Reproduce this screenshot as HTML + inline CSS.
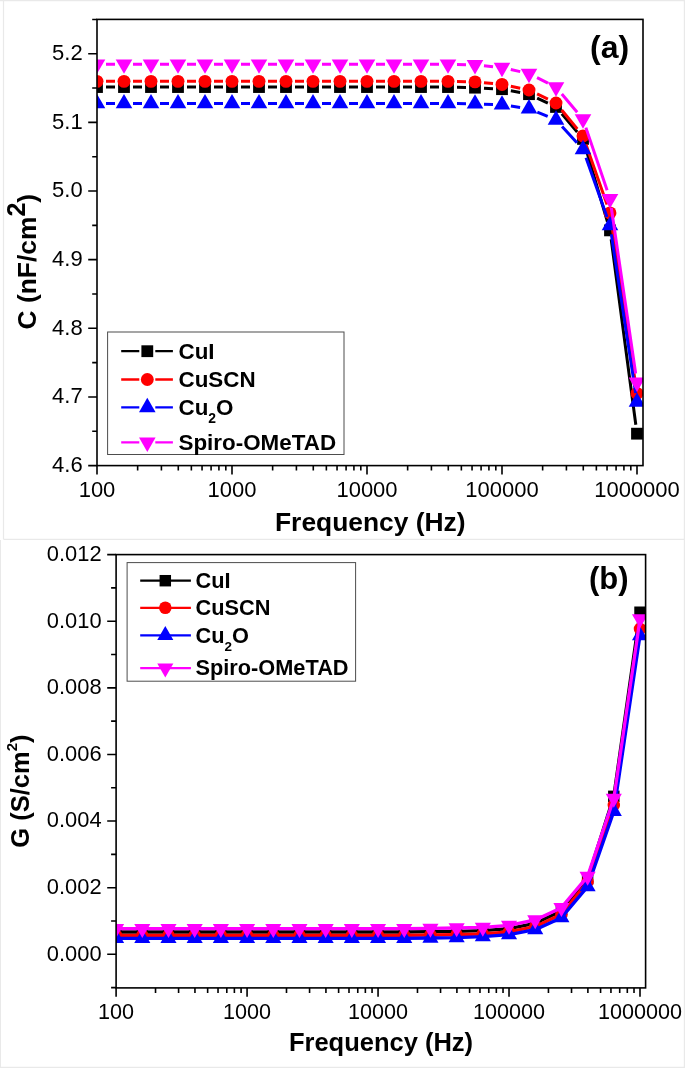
<!DOCTYPE html>
<html lang="en"><head><meta charset="utf-8"><title>Capacitance and conductance vs frequency</title>
<style>html,body{margin:0;padding:0;background:#fff}svg{display:block}</style></head><body>
<svg width="685" height="1068" viewBox="0 0 685 1068">
<rect width="685" height="1068" fill="#fff"/>
<defs>
<clipPath id="clipa"><rect x="97" y="19.4" width="546" height="446.2"/></clipPath>
<clipPath id="clipb"><rect x="116.1" y="554.6" width="529.5" height="433.3"/></clipPath>
</defs>
<g fill="none" stroke="#e9e9e9" stroke-width="1.2">
<path d="M3.5,0.6 V539.3 M0,0.6 H685 M3.5,539.3 H685 M684.4,0 V1068 M0.4,540 V1068 M0,1067.4 H685"/>
</g>
<g id="panel-a">
<g clip-path="url(#clipa)">
<path d="M106,87.04 L115,87.04 M133,87.04 L142,87.04 M160,87.04 L169,87.04 M187,87.04 L196,87.04 M214,87.04 L223,87.04 M241,87.04 L250,87.04 M268,87.04 L277,87.04 M295,87.04 L304,87.04 M322,87.04 L331,87.04 M349,87.04 L358,87.04 M376,87.04 L385,87.04 M403,87.04 L412,87.04 M430,87.04 L439,87.04 M457,87.25 L466,87.45 M483.99,88.16 L493.01,88.67 M510.85,90.81 L520.15,92.54 M537.14,98.03 L547.86,103.1 M561.81,113.82 L577.19,132.06 M585.55,147.57 L607.45,221.73 M611.18,239.29 L635.82,424.76" fill="none" stroke="#000000" stroke-width="3.0"/>
<rect x="91.1" y="81.14" width="11.8" height="11.8" fill="#000000"/>
<rect x="118.1" y="81.14" width="11.8" height="11.8" fill="#000000"/>
<rect x="145.1" y="81.14" width="11.8" height="11.8" fill="#000000"/>
<rect x="172.1" y="81.14" width="11.8" height="11.8" fill="#000000"/>
<rect x="199.1" y="81.14" width="11.8" height="11.8" fill="#000000"/>
<rect x="226.1" y="81.14" width="11.8" height="11.8" fill="#000000"/>
<rect x="253.1" y="81.14" width="11.8" height="11.8" fill="#000000"/>
<rect x="280.1" y="81.14" width="11.8" height="11.8" fill="#000000"/>
<rect x="307.1" y="81.14" width="11.8" height="11.8" fill="#000000"/>
<rect x="334.1" y="81.14" width="11.8" height="11.8" fill="#000000"/>
<rect x="361.1" y="81.14" width="11.8" height="11.8" fill="#000000"/>
<rect x="388.1" y="81.14" width="11.8" height="11.8" fill="#000000"/>
<rect x="415.1" y="81.14" width="11.8" height="11.8" fill="#000000"/>
<rect x="442.1" y="81.14" width="11.8" height="11.8" fill="#000000"/>
<rect x="469.1" y="81.76" width="11.8" height="11.8" fill="#000000"/>
<rect x="496.1" y="83.27" width="11.8" height="11.8" fill="#000000"/>
<rect x="523.1" y="88.28" width="11.8" height="11.8" fill="#000000"/>
<rect x="550.1" y="101.05" width="11.8" height="11.8" fill="#000000"/>
<rect x="577.1" y="133.03" width="11.8" height="11.8" fill="#000000"/>
<rect x="604.1" y="224.47" width="11.8" height="11.8" fill="#000000"/>
<rect x="631.1" y="427.78" width="11.8" height="11.8" fill="#000000"/>
<path d="M106,81.34 L115,81.34 M133,81.34 L142,81.34 M160,81.34 L169,81.34 M187,81.34 L196,81.34 M214,81.34 L223,81.34 M241,81.34 L250,81.34 M268,81.34 L277,81.34 M295,81.34 L304,81.34 M322,81.34 L331,81.34 M349,81.34 L358,81.34 M376,81.34 L385,81.34 M403,81.34 L412,81.34 M430,81.34 L439,81.34 M457,81.53 L466,81.71 M483.96,82.74 L493.04,83.59 M510.82,86.25 L520.18,88.18 M537.1,93.91 L547.9,99.12 M561.71,109.99 L577.29,128.96 M585.98,144.41 L607.02,204.44 M611.33,221.83 L635.67,384.49" fill="none" stroke="#ff0000" stroke-width="3.0"/>
<circle cx="97" cy="81.34" r="6.45" fill="#ff0000"/>
<circle cx="124" cy="81.34" r="6.45" fill="#ff0000"/>
<circle cx="151" cy="81.34" r="6.45" fill="#ff0000"/>
<circle cx="178" cy="81.34" r="6.45" fill="#ff0000"/>
<circle cx="205" cy="81.34" r="6.45" fill="#ff0000"/>
<circle cx="232" cy="81.34" r="6.45" fill="#ff0000"/>
<circle cx="259" cy="81.34" r="6.45" fill="#ff0000"/>
<circle cx="286" cy="81.34" r="6.45" fill="#ff0000"/>
<circle cx="313" cy="81.34" r="6.45" fill="#ff0000"/>
<circle cx="340" cy="81.34" r="6.45" fill="#ff0000"/>
<circle cx="367" cy="81.34" r="6.45" fill="#ff0000"/>
<circle cx="394" cy="81.34" r="6.45" fill="#ff0000"/>
<circle cx="421" cy="81.34" r="6.45" fill="#ff0000"/>
<circle cx="448" cy="81.34" r="6.45" fill="#ff0000"/>
<circle cx="475" cy="81.89" r="6.45" fill="#ff0000"/>
<circle cx="502" cy="84.43" r="6.45" fill="#ff0000"/>
<circle cx="529" cy="89.99" r="6.45" fill="#ff0000"/>
<circle cx="556" cy="103.03" r="6.45" fill="#ff0000"/>
<circle cx="583" cy="135.91" r="6.45" fill="#ff0000"/>
<circle cx="610" cy="212.93" r="6.45" fill="#ff0000"/>
<circle cx="637" cy="393.39" r="6.45" fill="#ff0000"/>
<path d="M106,103.52 L115,103.52 M133,103.52 L142,103.52 M160,103.52 L169,103.52 M187,103.52 L196,103.52 M214,103.52 L223,103.52 M241,103.52 L250,103.52 M268,103.52 L277,103.52 M295,103.52 L304,103.52 M322,103.52 L331,103.52 M349,103.52 L358,103.52 M376,103.52 L385,103.52 M403,103.52 L412,103.52 M430,103.52 L439,103.52 M457,103.61 L466,103.7 M483.99,104.13 L493.01,104.48 M510.91,106.09 L520.09,107.39 M537.31,112.13 L547.69,116.46 M562.08,126.55 L576.92,142.73 M586.01,157.85 L606.99,217.01 M611.36,234.39 L635.64,393.14" fill="none" stroke="#0000ff" stroke-width="3.0"/>
<polygon points="88.7,108.32 105.3,108.32 97,93.92" fill="#0000ff"/>
<polygon points="115.7,108.32 132.3,108.32 124,93.92" fill="#0000ff"/>
<polygon points="142.7,108.32 159.3,108.32 151,93.92" fill="#0000ff"/>
<polygon points="169.7,108.32 186.3,108.32 178,93.92" fill="#0000ff"/>
<polygon points="196.7,108.32 213.3,108.32 205,93.92" fill="#0000ff"/>
<polygon points="223.7,108.32 240.3,108.32 232,93.92" fill="#0000ff"/>
<polygon points="250.7,108.32 267.3,108.32 259,93.92" fill="#0000ff"/>
<polygon points="277.7,108.32 294.3,108.32 286,93.92" fill="#0000ff"/>
<polygon points="304.7,108.32 321.3,108.32 313,93.92" fill="#0000ff"/>
<polygon points="331.7,108.32 348.3,108.32 340,93.92" fill="#0000ff"/>
<polygon points="358.7,108.32 375.3,108.32 367,93.92" fill="#0000ff"/>
<polygon points="385.7,108.32 402.3,108.32 394,93.92" fill="#0000ff"/>
<polygon points="412.7,108.32 429.3,108.32 421,93.92" fill="#0000ff"/>
<polygon points="439.7,108.32 456.3,108.32 448,93.92" fill="#0000ff"/>
<polygon points="466.7,108.59 483.3,108.59 475,94.19" fill="#0000ff"/>
<polygon points="493.7,109.62 510.3,109.62 502,95.22" fill="#0000ff"/>
<polygon points="520.7,113.46 537.3,113.46 529,99.06" fill="#0000ff"/>
<polygon points="547.7,124.72 564.3,124.72 556,110.32" fill="#0000ff"/>
<polygon points="574.7,154.17 591.3,154.17 583,139.77" fill="#0000ff"/>
<polygon points="601.7,230.29 618.3,230.29 610,215.89" fill="#0000ff"/>
<polygon points="628.7,406.84 645.3,406.84 637,392.44" fill="#0000ff"/>
<path d="M106,64.18 L115,64.18 M133,64.18 L142,64.18 M160,64.18 L169,64.18 M187,64.18 L196,64.18 M214,64.18 L223,64.18 M241,64.18 L250,64.18 M268,64.18 L277,64.18 M295,64.18 L304,64.18 M322,64.18 L331,64.18 M349,64.18 L358,64.18 M376,64.18 L385,64.18 M403,64.18 L412,64.18 M430,64.18 L439,64.18 M457,64.41 L466,64.64 M483.96,65.76 L493.04,66.66 M510.78,69.51 L520.22,71.62 M537.05,77.62 L547.95,83.08 M561.81,93.99 L577.19,112.22 M585.89,127.62 L607.11,190.33 M611.31,207.76 L635.69,373.43" fill="none" stroke="#ff00ff" stroke-width="3.0"/>
<polygon points="88.7,59.38 105.3,59.38 97,73.78" fill="#ff00ff"/>
<polygon points="115.7,59.38 132.3,59.38 124,73.78" fill="#ff00ff"/>
<polygon points="142.7,59.38 159.3,59.38 151,73.78" fill="#ff00ff"/>
<polygon points="169.7,59.38 186.3,59.38 178,73.78" fill="#ff00ff"/>
<polygon points="196.7,59.38 213.3,59.38 205,73.78" fill="#ff00ff"/>
<polygon points="223.7,59.38 240.3,59.38 232,73.78" fill="#ff00ff"/>
<polygon points="250.7,59.38 267.3,59.38 259,73.78" fill="#ff00ff"/>
<polygon points="277.7,59.38 294.3,59.38 286,73.78" fill="#ff00ff"/>
<polygon points="304.7,59.38 321.3,59.38 313,73.78" fill="#ff00ff"/>
<polygon points="331.7,59.38 348.3,59.38 340,73.78" fill="#ff00ff"/>
<polygon points="358.7,59.38 375.3,59.38 367,73.78" fill="#ff00ff"/>
<polygon points="385.7,59.38 402.3,59.38 394,73.78" fill="#ff00ff"/>
<polygon points="412.7,59.38 429.3,59.38 421,73.78" fill="#ff00ff"/>
<polygon points="439.7,59.38 456.3,59.38 448,73.78" fill="#ff00ff"/>
<polygon points="466.7,60.07 483.3,60.07 475,74.47" fill="#ff00ff"/>
<polygon points="493.7,62.75 510.3,62.75 502,77.15" fill="#ff00ff"/>
<polygon points="520.7,68.79 537.3,68.79 529,83.19" fill="#ff00ff"/>
<polygon points="547.7,82.31 564.3,82.31 556,96.71" fill="#ff00ff"/>
<polygon points="574.7,114.3 591.3,114.3 583,128.7" fill="#ff00ff"/>
<polygon points="601.7,194.06 618.3,194.06 610,208.46" fill="#ff00ff"/>
<polygon points="628.7,377.54 645.3,377.54 637,391.94" fill="#ff00ff"/>
</g>
<rect x="97" y="19.4" width="546" height="446.2" fill="none" stroke="#000" stroke-width="1.6"/>
<path d="M97,465.6 h-8.8 M97,396.96 h-8.8 M97,328.32 h-8.8 M97,259.67 h-8.8 M97,191.03 h-8.8 M97,122.39 h-8.8 M97,53.75 h-8.8 M97,431.28 h-4.8 M97,362.64 h-4.8 M97,294 h-4.8 M97,225.35 h-4.8 M97,156.71 h-4.8 M97,88.07 h-4.8 M97,19.43 h-4.8 M97,465.6 v8.8 M137.64,465.6 v4.8 M161.41,465.6 v4.8 M178.28,465.6 v4.8 M191.36,465.6 v4.8 M202.05,465.6 v4.8 M211.09,465.6 v4.8 M218.92,465.6 v4.8 M225.82,465.6 v4.8 M232,465.6 v8.8 M272.64,465.6 v4.8 M296.41,465.6 v4.8 M313.28,465.6 v4.8 M326.36,465.6 v4.8 M337.05,465.6 v4.8 M346.09,465.6 v4.8 M353.92,465.6 v4.8 M360.82,465.6 v4.8 M367,465.6 v8.8 M407.64,465.6 v4.8 M431.41,465.6 v4.8 M448.28,465.6 v4.8 M461.36,465.6 v4.8 M472.05,465.6 v4.8 M481.09,465.6 v4.8 M488.92,465.6 v4.8 M495.82,465.6 v4.8 M502,465.6 v8.8 M542.64,465.6 v4.8 M566.41,465.6 v4.8 M583.28,465.6 v4.8 M596.36,465.6 v4.8 M607.05,465.6 v4.8 M616.09,465.6 v4.8 M623.92,465.6 v4.8 M630.82,465.6 v4.8 M637,465.6 v8.8" fill="none" stroke="#000" stroke-width="1.6"/>
<g font-family='"Liberation Sans", Arial, Helvetica, sans-serif' font-size="22" fill="#000">
<text x="82.7" y="471.98" text-anchor="end">4.6</text>
<text x="82.7" y="403.33" text-anchor="end">4.7</text>
<text x="82.7" y="334.69" text-anchor="end">4.8</text>
<text x="82.7" y="266.05" text-anchor="end">4.9</text>
<text x="82.7" y="197.41" text-anchor="end">5.0</text>
<text x="82.7" y="128.77" text-anchor="end">5.1</text>
<text x="82.7" y="60.13" text-anchor="end">5.2</text>
<text x="97" y="497.1" text-anchor="middle" font-size="22">100</text>
<text x="232" y="497.1" text-anchor="middle" font-size="22">1000</text>
<text x="367" y="497.1" text-anchor="middle" font-size="22">10000</text>
<text x="502" y="497.1" text-anchor="middle" font-size="22">100000</text>
<text x="637" y="497.1" text-anchor="middle" font-size="22">1000000</text>
</g>
<rect x="107.6" y="332" width="236.4" height="122.5" fill="#fff" stroke="#4d4d4d" stroke-width="1"/>
<path d="M121.2,351.2 H139.3 M155.3,351.2 H172.9" stroke="#000000" stroke-width="2.3" fill="none"/>
<rect x="141.4" y="345.3" width="11.8" height="11.8" fill="#000000"/>
<text x="178.5" y="358.72" font-family='"Liberation Sans", Arial, Helvetica, sans-serif' font-size="22.4" font-weight="bold">CuI</text>
<path d="M121.2,379.5 H139.3 M155.3,379.5 H172.9" stroke="#ff0000" stroke-width="2.3" fill="none"/>
<circle cx="147.3" cy="379.5" r="6.45" fill="#ff0000"/>
<text x="178.5" y="387.02" font-family='"Liberation Sans", Arial, Helvetica, sans-serif' font-size="22.4" font-weight="bold">CuSCN</text>
<path d="M121.2,407.4 H139.3 M155.3,407.4 H172.9" stroke="#0000ff" stroke-width="2.3" fill="none"/>
<polygon points="139,412.2 155.6,412.2 147.3,397.8" fill="#0000ff"/>
<text x="178.5" y="414.92" font-family='"Liberation Sans", Arial, Helvetica, sans-serif' font-size="22.4" font-weight="bold">Cu<tspan font-size="13.89" dy="8.06">2</tspan><tspan dy="-8.06">O</tspan></text>
<path d="M121.2,442.4 H139.3 M155.3,442.4 H172.9" stroke="#ff00ff" stroke-width="2.3" fill="none"/>
<polygon points="139,437.6 155.6,437.6 147.3,452" fill="#ff00ff"/>
<text x="178.5" y="449.92" font-family='"Liberation Sans", Arial, Helvetica, sans-serif' font-size="22.4" font-weight="bold">Spiro-OMeTAD</text>
<text x="370.3" y="531" text-anchor="middle" font-family='"Liberation Sans", Arial, Helvetica, sans-serif' font-size="26.4" font-weight="bold">Frequency (Hz)</text>
<text transform="translate(36.2,329.5) rotate(-90)" font-family='"Liberation Sans", Arial, Helvetica, sans-serif' font-size="26.4" font-weight="bold">C (nF/cm<tspan font-size="25" dy="-10.9">2</tspan><tspan dy="10.9">)</tspan></text>
<text x="590.1" y="58.4" font-family='"Liberation Sans", Arial, Helvetica, sans-serif' font-size="32" font-weight="bold">(a)</text>
</g>
<g id="panel-b">
<g clip-path="url(#clipb)">
<path d="M116.1,931.98 L142.3,931.98 L168.49,931.98 L194.69,931.98 L220.88,931.98 L247.07,931.98 L273.27,931.98 L299.47,931.98 L325.66,931.98 L351.85,931.98 L378.05,931.98 L404.25,931.98 L430.44,931.65 L456.63,931.32 L482.83,930.65 L509.02,928.65 L535.22,923.32 L561.42,911 L587.61,878.69 L613.81,796.32 L640,612.22" fill="none" stroke="#000000" stroke-width="3.3" stroke-linejoin="round"/>
<rect x="110.38" y="926.26" width="11.45" height="11.45" fill="#000000"/>
<rect x="136.57" y="926.26" width="11.45" height="11.45" fill="#000000"/>
<rect x="162.77" y="926.26" width="11.45" height="11.45" fill="#000000"/>
<rect x="188.96" y="926.26" width="11.45" height="11.45" fill="#000000"/>
<rect x="215.16" y="926.26" width="11.45" height="11.45" fill="#000000"/>
<rect x="241.35" y="926.26" width="11.45" height="11.45" fill="#000000"/>
<rect x="267.55" y="926.26" width="11.45" height="11.45" fill="#000000"/>
<rect x="293.74" y="926.26" width="11.45" height="11.45" fill="#000000"/>
<rect x="319.94" y="926.26" width="11.45" height="11.45" fill="#000000"/>
<rect x="346.13" y="926.26" width="11.45" height="11.45" fill="#000000"/>
<rect x="372.33" y="926.26" width="11.45" height="11.45" fill="#000000"/>
<rect x="398.52" y="926.26" width="11.45" height="11.45" fill="#000000"/>
<rect x="424.72" y="925.93" width="11.45" height="11.45" fill="#000000"/>
<rect x="450.91" y="925.59" width="11.45" height="11.45" fill="#000000"/>
<rect x="477.11" y="924.93" width="11.45" height="11.45" fill="#000000"/>
<rect x="503.3" y="922.93" width="11.45" height="11.45" fill="#000000"/>
<rect x="529.5" y="917.6" width="11.45" height="11.45" fill="#000000"/>
<rect x="555.69" y="905.28" width="11.45" height="11.45" fill="#000000"/>
<rect x="581.89" y="872.97" width="11.45" height="11.45" fill="#000000"/>
<rect x="608.08" y="790.6" width="11.45" height="11.45" fill="#000000"/>
<rect x="634.28" y="606.5" width="11.45" height="11.45" fill="#000000"/>
<path d="M116.1,935.31 L142.3,935.31 L168.49,935.31 L194.69,935.31 L220.88,935.31 L247.07,935.31 L273.27,935.31 L299.47,935.31 L325.66,935.31 L351.85,935.31 L378.05,935.31 L404.25,935.31 L430.44,934.98 L456.63,934.65 L482.83,933.98 L509.02,931.98 L535.22,926.65 L561.42,914.33 L587.61,881.69 L613.81,805.08 L640,628.88" fill="none" stroke="#ff0000" stroke-width="3.3" stroke-linejoin="round"/>
<circle cx="116.1" cy="935.31" r="6.26" fill="#ff0000"/>
<circle cx="142.3" cy="935.31" r="6.26" fill="#ff0000"/>
<circle cx="168.49" cy="935.31" r="6.26" fill="#ff0000"/>
<circle cx="194.69" cy="935.31" r="6.26" fill="#ff0000"/>
<circle cx="220.88" cy="935.31" r="6.26" fill="#ff0000"/>
<circle cx="247.07" cy="935.31" r="6.26" fill="#ff0000"/>
<circle cx="273.27" cy="935.31" r="6.26" fill="#ff0000"/>
<circle cx="299.47" cy="935.31" r="6.26" fill="#ff0000"/>
<circle cx="325.66" cy="935.31" r="6.26" fill="#ff0000"/>
<circle cx="351.85" cy="935.31" r="6.26" fill="#ff0000"/>
<circle cx="378.05" cy="935.31" r="6.26" fill="#ff0000"/>
<circle cx="404.25" cy="935.31" r="6.26" fill="#ff0000"/>
<circle cx="430.44" cy="934.98" r="6.26" fill="#ff0000"/>
<circle cx="456.63" cy="934.65" r="6.26" fill="#ff0000"/>
<circle cx="482.83" cy="933.98" r="6.26" fill="#ff0000"/>
<circle cx="509.02" cy="931.98" r="6.26" fill="#ff0000"/>
<circle cx="535.22" cy="926.65" r="6.26" fill="#ff0000"/>
<circle cx="561.42" cy="914.33" r="6.26" fill="#ff0000"/>
<circle cx="587.61" cy="881.69" r="6.26" fill="#ff0000"/>
<circle cx="613.81" cy="805.08" r="6.26" fill="#ff0000"/>
<circle cx="640" cy="628.88" r="6.26" fill="#ff0000"/>
<path d="M116.1,938.31 L142.3,938.31 L168.49,938.31 L194.69,938.31 L220.88,938.31 L247.07,938.31 L273.27,938.31 L299.47,938.31 L325.66,938.31 L351.85,938.31 L378.05,938.31 L404.25,938.31 L430.44,937.98 L456.63,937.65 L482.83,936.65 L509.02,934.65 L535.22,929.65 L561.42,917.66 L587.61,886.68 L613.81,811.41 L640,635.54" fill="none" stroke="#0000ff" stroke-width="3.3" stroke-linejoin="round"/>
<polygon points="108.05,942.97 124.15,942.97 116.1,929" fill="#0000ff"/>
<polygon points="134.24,942.97 150.35,942.97 142.3,929" fill="#0000ff"/>
<polygon points="160.44,942.97 176.54,942.97 168.49,929" fill="#0000ff"/>
<polygon points="186.63,942.97 202.74,942.97 194.69,929" fill="#0000ff"/>
<polygon points="212.83,942.97 228.93,942.97 220.88,929" fill="#0000ff"/>
<polygon points="239.02,942.97 255.13,942.97 247.07,929" fill="#0000ff"/>
<polygon points="265.22,942.97 281.32,942.97 273.27,929" fill="#0000ff"/>
<polygon points="291.41,942.97 307.52,942.97 299.47,929" fill="#0000ff"/>
<polygon points="317.61,942.97 333.71,942.97 325.66,929" fill="#0000ff"/>
<polygon points="343.8,942.97 359.91,942.97 351.85,929" fill="#0000ff"/>
<polygon points="370,942.97 386.1,942.97 378.05,929" fill="#0000ff"/>
<polygon points="396.19,942.97 412.3,942.97 404.25,929" fill="#0000ff"/>
<polygon points="422.39,942.63 438.49,942.63 430.44,928.67" fill="#0000ff"/>
<polygon points="448.58,942.3 464.69,942.3 456.63,928.33" fill="#0000ff"/>
<polygon points="474.78,941.3 490.88,941.3 482.83,927.33" fill="#0000ff"/>
<polygon points="500.97,939.3 517.08,939.3 509.02,925.34" fill="#0000ff"/>
<polygon points="527.17,934.31 543.27,934.31 535.22,920.34" fill="#0000ff"/>
<polygon points="553.36,922.32 569.47,922.32 561.42,908.35" fill="#0000ff"/>
<polygon points="579.56,891.34 595.66,891.34 587.61,877.37" fill="#0000ff"/>
<polygon points="605.75,816.06 621.86,816.06 613.81,802.1" fill="#0000ff"/>
<polygon points="631.95,640.2 648.05,640.2 640,626.23" fill="#0000ff"/>
<path d="M116.1,928.65 L142.3,928.65 L168.49,928.65 L194.69,928.65 L220.88,928.65 L247.07,928.65 L273.27,928.65 L299.47,928.65 L325.66,928.65 L351.85,928.65 L378.05,928.65 L404.25,928.65 L430.44,928.32 L456.63,927.99 L482.83,927.32 L509.02,925.32 L535.22,919.99 L561.42,907.67 L587.61,876.36 L613.81,798.42 L640,618.89" fill="none" stroke="#ff00ff" stroke-width="3.3" stroke-linejoin="round"/>
<polygon points="108.05,924 124.15,924 116.1,937.96" fill="#ff00ff"/>
<polygon points="134.24,924 150.35,924 142.3,937.96" fill="#ff00ff"/>
<polygon points="160.44,924 176.54,924 168.49,937.96" fill="#ff00ff"/>
<polygon points="186.63,924 202.74,924 194.69,937.96" fill="#ff00ff"/>
<polygon points="212.83,924 228.93,924 220.88,937.96" fill="#ff00ff"/>
<polygon points="239.02,924 255.13,924 247.07,937.96" fill="#ff00ff"/>
<polygon points="265.22,924 281.32,924 273.27,937.96" fill="#ff00ff"/>
<polygon points="291.41,924 307.52,924 299.47,937.96" fill="#ff00ff"/>
<polygon points="317.61,924 333.71,924 325.66,937.96" fill="#ff00ff"/>
<polygon points="343.8,924 359.91,924 351.85,937.96" fill="#ff00ff"/>
<polygon points="370,924 386.1,924 378.05,937.96" fill="#ff00ff"/>
<polygon points="396.19,924 412.3,924 404.25,937.96" fill="#ff00ff"/>
<polygon points="422.39,923.66 438.49,923.66 430.44,937.63" fill="#ff00ff"/>
<polygon points="448.58,923.33 464.69,923.33 456.63,937.3" fill="#ff00ff"/>
<polygon points="474.78,922.66 490.88,922.66 482.83,936.63" fill="#ff00ff"/>
<polygon points="500.97,920.67 517.08,920.67 509.02,934.63" fill="#ff00ff"/>
<polygon points="527.17,915.34 543.27,915.34 535.22,929.3" fill="#ff00ff"/>
<polygon points="553.36,903.01 569.47,903.01 561.42,916.98" fill="#ff00ff"/>
<polygon points="579.56,871.7 595.66,871.7 587.61,885.67" fill="#ff00ff"/>
<polygon points="605.75,793.76 621.86,793.76 613.81,807.73" fill="#ff00ff"/>
<polygon points="631.95,614.23 648.05,614.23 640,628.2" fill="#ff00ff"/>
</g>
<rect x="116.1" y="554.6" width="529.5" height="433.3" fill="none" stroke="#000" stroke-width="1.6"/>
<path d="M116.1,954.3 h-8.9 M116.1,887.68 h-8.9 M116.1,821.07 h-8.9 M116.1,754.45 h-8.9 M116.1,687.83 h-8.9 M116.1,621.22 h-8.9 M116.1,554.6 h-8.9 M116.1,987.61 h-5 M116.1,920.99 h-5 M116.1,854.38 h-5 M116.1,787.76 h-5 M116.1,721.14 h-5 M116.1,654.53 h-5 M116.1,587.91 h-5 M116.1,987.9 v8.9 M155.53,987.9 v5 M178.59,987.9 v5 M194.95,987.9 v5 M207.65,987.9 v5 M218.02,987.9 v5 M226.79,987.9 v5 M234.38,987.9 v5 M241.08,987.9 v5 M247.07,987.9 v8.9 M286.5,987.9 v5 M309.57,987.9 v5 M325.93,987.9 v5 M338.62,987.9 v5 M348.99,987.9 v5 M357.76,987.9 v5 M365.36,987.9 v5 M372.06,987.9 v5 M378.05,987.9 v8.9 M417.48,987.9 v5 M440.54,987.9 v5 M456.9,987.9 v5 M469.6,987.9 v5 M479.97,987.9 v5 M488.74,987.9 v5 M496.33,987.9 v5 M503.03,987.9 v5 M509.02,987.9 v8.9 M548.45,987.9 v5 M571.52,987.9 v5 M587.88,987.9 v5 M600.57,987.9 v5 M610.94,987.9 v5 M619.71,987.9 v5 M627.31,987.9 v5 M634.01,987.9 v5 M640,987.9 v8.9" fill="none" stroke="#000" stroke-width="1.6"/>
<g font-family='"Liberation Sans", Arial, Helvetica, sans-serif' font-size="21.9" fill="#000">
<text x="101.6" y="960.64" text-anchor="end">0.000</text>
<text x="101.6" y="894.02" text-anchor="end">0.002</text>
<text x="101.6" y="827.41" text-anchor="end">0.004</text>
<text x="101.6" y="760.79" text-anchor="end">0.006</text>
<text x="101.6" y="694.17" text-anchor="end">0.008</text>
<text x="101.6" y="627.56" text-anchor="end">0.010</text>
<text x="101.6" y="560.94" text-anchor="end">0.012</text>
<text x="116.1" y="1018.7" text-anchor="middle" font-size="21.6">100</text>
<text x="247.07" y="1018.7" text-anchor="middle" font-size="21.6">1000</text>
<text x="378.05" y="1018.7" text-anchor="middle" font-size="21.6">10000</text>
<text x="509.02" y="1018.7" text-anchor="middle" font-size="21.6">100000</text>
<text x="640" y="1018.7" text-anchor="middle" font-size="21.6">1000000</text>
</g>
<rect x="127.1" y="562.6" width="228.5" height="118.6" fill="#fff" stroke="#4d4d4d" stroke-width="1"/>
<path d="M140.2,580.7 H190.9" stroke="#000000" stroke-width="2.3" fill="none"/>
<rect x="159.58" y="574.98" width="11.45" height="11.45" fill="#000000"/>
<text x="195.5" y="587.99" font-family='"Liberation Sans", Arial, Helvetica, sans-serif' font-size="21.75" font-weight="bold">CuI</text>
<path d="M140.2,607.8 H190.9" stroke="#ff0000" stroke-width="2.3" fill="none"/>
<circle cx="165.3" cy="607.8" r="6.26" fill="#ff0000"/>
<text x="195.5" y="615.09" font-family='"Liberation Sans", Arial, Helvetica, sans-serif' font-size="21.75" font-weight="bold">CuSCN</text>
<path d="M140.2,635.4 H190.9" stroke="#0000ff" stroke-width="2.3" fill="none"/>
<polygon points="157.25,640.06 173.35,640.06 165.3,626.09" fill="#0000ff"/>
<text x="195.5" y="642.69" font-family='"Liberation Sans", Arial, Helvetica, sans-serif' font-size="21.75" font-weight="bold">Cu<tspan font-size="13.48" dy="7.83">2</tspan><tspan dy="-7.83">O</tspan></text>
<path d="M140.2,668.1 H190.9" stroke="#ff00ff" stroke-width="2.3" fill="none"/>
<polygon points="157.25,663.44 173.35,663.44 165.3,677.41" fill="#ff00ff"/>
<text x="195.5" y="675.39" font-family='"Liberation Sans", Arial, Helvetica, sans-serif' font-size="21.75" font-weight="bold">Spiro-OMeTAD</text>
<text x="381" y="1051" text-anchor="middle" font-family='"Liberation Sans", Arial, Helvetica, sans-serif' font-size="25.5" font-weight="bold">Frequency (Hz)</text>
<text transform="translate(29.2,847.7) rotate(-90)" font-family='"Liberation Sans", Arial, Helvetica, sans-serif' font-size="25.5" font-weight="bold">G (S/cm<tspan font-size="15" dy="-12.4">2</tspan><tspan dy="12.4">)</tspan></text>
<text x="589.0" y="588.7" font-family='"Liberation Sans", Arial, Helvetica, sans-serif' font-size="31" font-weight="bold">(b)</text>
</g>
</svg></body></html>
